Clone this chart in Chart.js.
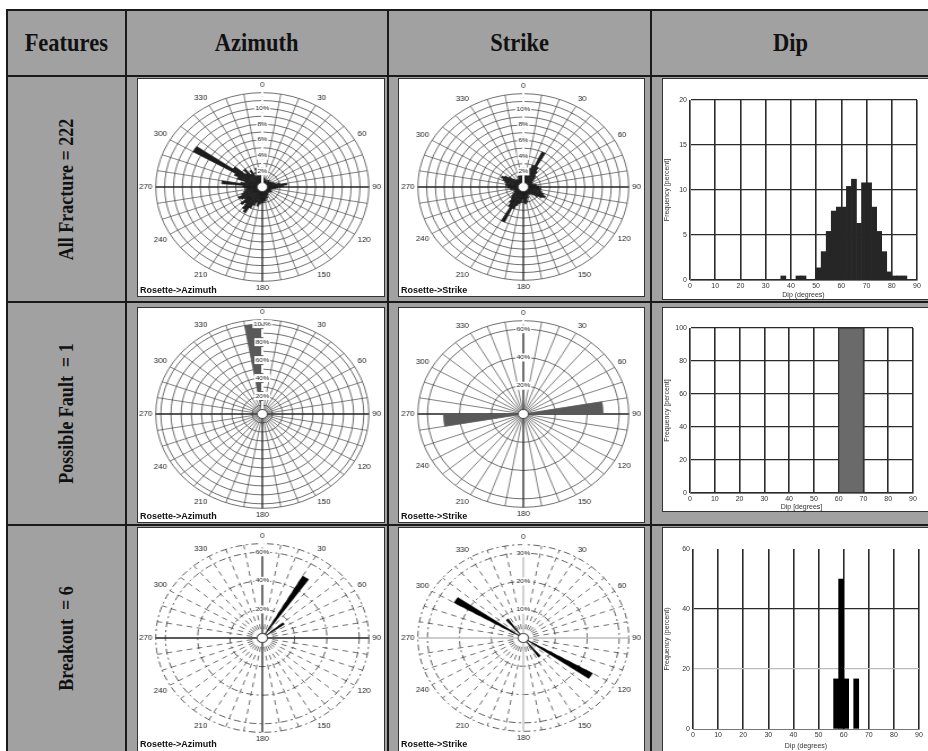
<!DOCTYPE html>
<html>
<head>
<meta charset="utf-8">
<script src="https://cdn.jsdelivr.net/npm/chart.js@4.4.1/dist/chart.umd.min.js"></script>
<style>
  body { margin: 0; width: 928px; height: 751px; overflow: hidden; position: relative; background: #fff; }
  #table { position: absolute; left: 7px; top: 10px; width: 930px; height: 760px; background: #a1a1a1; }
  .ln { position: absolute; background: #1a1a1a; }
  .hd { position: absolute; top: 10px; height: 66px; display: flex; align-items: center; justify-content: center;
        font: bold 25px "Liberation Serif", serif; color: #111; }
  .hd span { display: inline-block; transform: scaleX(0.9); }
  .rl { position: absolute; left: 7px; width: 119px; display: flex; align-items: center; justify-content: center; }
  .rl span { display: inline-block; white-space: nowrap; transform: rotate(-90deg) scaleX(0.9);
             font: bold 20px "Liberation Serif", serif; color: #111; }
  .box { position: absolute; background: #fff; border: 1px solid #333; box-sizing: border-box; overflow: hidden; }
  .box canvas { position: absolute; left: 0; top: 0; transform-origin: 0 0; }
  .cap { position: absolute; left: 2px; font: bold 9px "Liberation Sans", sans-serif; color: #111; }
</style>
</head>
<body>
<div id="table"></div>

<div class="hd" style="left:7px;width:119px"><span>Features</span></div>
<div class="hd" style="left:126px;width:262px"><span>Azimuth</span></div>
<div class="hd" style="left:388px;width:263px"><span>Strike</span></div>
<div class="hd" style="left:651px;width:278px"><span>Dip</span></div>

<div class="rl" style="top:76px;height:226px"><span>All Fracture = 222</span></div>
<div class="rl" style="top:302px;height:223px"><span>Possible Fault &nbsp;= 1</span></div>
<div class="rl" style="top:525px;height:226px"><span>Breakout &nbsp;= 6</span></div>

<div class="box" id="az1" style="left:137px;top:78px;width:248px;height:219px"></div>
<div class="box" id="st1" style="left:398px;top:78px;width:247px;height:219px"></div>
<div class="box" id="dp1" style="left:662px;top:78px;width:267px;height:222px"></div>
<div class="box" id="az2" style="left:137px;top:307px;width:248px;height:216px"></div>
<div class="box" id="st2" style="left:398px;top:307px;width:247px;height:216px"></div>
<div class="box" id="dp2" style="left:662px;top:307px;width:267px;height:205px"></div>
<div class="box" id="az3" style="left:137px;top:527px;width:248px;height:232px"></div>
<div class="box" id="st3" style="left:398px;top:527px;width:247px;height:232px"></div>
<div class="box" id="dp3" style="left:662px;top:527px;width:267px;height:232px"></div>

<div class="ln" style="left:6px;top:9px;width:2px;height:750px"></div>
<div class="ln" style="left:125px;top:9px;width:2px;height:750px"></div>
<div class="ln" style="left:387px;top:9px;width:2px;height:750px"></div>
<div class="ln" style="left:650px;top:9px;width:2px;height:750px"></div>
<div class="ln" style="left:6px;top:9px;width:930px;height:2px"></div>
<div class="ln" style="left:6px;top:75px;width:930px;height:2px"></div>
<div class="ln" style="left:6px;top:301px;width:930px;height:2px"></div>
<div class="ln" style="left:6px;top:524px;width:930px;height:2px"></div>

<script>
// compass labels round every rose
const compassLabels = ['0', '30', '60', '90', '120', '150', '180', '210', '240', '270', '300', '330'];

// All fractures, azimuth, 5 degree bins from north (percent)
const az1Vals = [1.5, 1.0, 1.2, 0.8, 1.0, 0.8, 1.0, 0.8, 1.2, 1.0, 1.0, 1.2,
                 1.2, 1.4, 1.5, 2.0, 2.8, 2.4, 1.8, 1.5, 1.2, 1.0, 1.0, 1.2,
                 1.2, 1.0, 1.0, 0.8, 1.0, 1.2, 1.2, 1.5, 1.5, 1.8, 1.8, 2.0,
                 2.0, 2.2, 2.5, 2.0, 2.5, 3.0, 3.8, 3.5, 2.8, 3.2, 2.5, 2.8,
                 3.0, 2.5, 2.2, 2.0, 1.8, 2.0, 2.2, 4.6, 2.5, 2.0, 3.0, 3.5,
                 9.0, 4.0, 2.5, 3.0, 2.0, 2.5, 1.5, 2.0, 2.5, 1.5, 2.0, 1.5];
// All fractures, strike, 5 degree bins
const st1Vals = [1.5, 2.0, 2.2, 2.5, 3.0, 5.0, 3.0, 2.5, 2.0, 1.8, 1.5, 1.2,
                 1.2, 1.0, 1.2, 1.5, 1.5, 1.8, 1.8, 2.0, 2.0, 2.2, 2.5, 2.8,
                 2.5, 2.0, 1.5, 1.2, 1.2, 1.0, 1.2, 1.5, 1.5, 2.0, 2.2, 2.0,
                 1.5, 2.0, 2.2, 2.5, 3.0, 5.0, 3.0, 2.5, 2.0, 1.8, 1.5, 1.2,
                 1.2, 1.0, 1.2, 1.5, 1.5, 1.8, 1.8, 2.0, 2.0, 2.2, 2.5, 2.8,
                 2.5, 2.0, 1.5, 1.2, 1.2, 1.0, 1.2, 1.5, 1.5, 2.0, 2.2, 2.0];
// Possible fault (10 degree bins)
const az2Bins = [350], az2Vals = [100];
const st2Bins = [80, 260], st2Vals = [50, 50];
// Breakouts (5 degree bins)
const az3Bins = [30, 50], az3Vals = [50, 16.7];
const st3Bins = [120, 140, 300, 320], st3Vals = [25, 8.3, 25, 8.3];

// Dip histograms: bin starts (degrees) and frequency (percent)
const dip1Starts = [36, 42, 44, 50, 52, 54, 56, 58, 60, 62, 64, 66, 68, 70, 72, 74, 76, 78, 80, 82, 84];
const dip1Vals = [0.45, 0.45, 0.45, 1.35, 3.15, 5.4, 7.66, 8.1, 8.1, 10.4, 11.2, 6.3, 10.8, 10.8, 8.1, 5.4, 3.15, 0.9, 0.45, 0.45, 0.45];
const dip2Starts = [60], dip2Vals = [100];
const dip3Starts = [56, 58, 60, 64], dip3Vals = [16.7, 50, 16.7, 16.7];
const dipTicks = [0, 10, 20, 30, 40, 50, 60, 70, 80, 90];

Chart.defaults.font.family = '"Liberation Sans", Arial, sans-serif';
Chart.defaults.color = '#222';
Chart.defaults.animation = false;

const SX = 1.13; // the roses in the picture are stretched sideways

function spread(bins, vals, width) {
  const out = new Array(360 / width).fill(0);
  bins.forEach((b, i) => { out[b / width] = vals[i]; });
  return out;
}

const hub = {
  id: 'hub',
  afterDatasetsDraw(chart) {
    const s = chart.scales.r, c = chart.ctx;
    c.save();
    c.beginPath();
    c.arc(s.xCenter, s.yCenter, 4.5, 0, Math.PI * 2);
    c.fillStyle = '#fff';
    c.fill();
    c.strokeStyle = '#333';
    c.lineWidth = 0.8;
    c.stroke();
    c.restore();
  }
};

function rose(id, values, o) {
  const box = document.getElementById(id);
  const h = o.h, w = Math.round(box.clientWidth / SX);
  const cv = document.createElement('canvas');
  cv.width = w; cv.height = h;
  cv.style.width = w + 'px'; cv.style.height = h + 'px';
  cv.style.transform = 'scaleX(' + SX + ')';
  box.appendChild(cv);
  const cap = document.createElement('div');
  cap.className = 'cap';
  cap.style.top = (h - 11) + 'px';
  cap.textContent = o.caption;
  box.appendChild(cap);

  const step = 360 / values.length;
  const labels = values.map((v, i) => String(i * step));
  new Chart(cv, {
    type: 'polarArea',
    data: {
      labels: labels,
      datasets: [{ data: values, backgroundColor: o.fill, borderColor: o.fill, borderWidth: 0.5 }]
    },
    options: {
      responsive: false,
      layout: { padding: 0 },
      plugins: { legend: { display: false }, tooltip: { enabled: false } },
      scales: {
        r: {
          min: 0,
          max: o.max,
          startAngle: 0,
          ticks: {
            stepSize: o.step,
            z: 1,
            font: { size: 6 },
            color: '#222',
            backdropColor: '#fff',
            backdropPadding: 1,
            callback: v => o.marks.includes(v) ? v + '%' : ''
          },
          grid: { circular: true, color: o.grid, lineWidth: 0.8 },
          border: { dash: o.ringDash },
          angleLines: {
            display: true,
            color: c => (c.index * step) % 90 === 0 ? o.cross : o.grid,
            lineWidth: c => (c.index * step) % 90 === 0 ? 1.3 : ((c.index * step) % 10 === 0 ? 0.7 : 0),
            borderDash: c => (c.index * step) % 90 === 0 ? [] : o.spokeDash
          },
          pointLabels: {
            display: true,
            centerPointLabels: false,
            padding: -1,
            font: { size: 7 },
            color: '#222',
            callback: (lbl, i) => (i * step) % 30 === 0 ? compassLabels[i * step / 30] : ''
          }
        }
      }
    },
    plugins: [hub]
  });
}

function dip(id, starts, vals, width, o) {
  const box = document.getElementById(id);
  const cv = document.createElement('canvas');
  const w = box.clientWidth, h = o.h;
  cv.width = w; cv.height = h;
  cv.style.width = w + 'px'; cv.style.height = h + 'px';
  box.appendChild(cv);
  new Chart(cv, {
    type: 'bar',
    data: {
      datasets: [{
        data: starts.map((s, i) => ({ x: s + width / 2, y: vals[i] })),
        backgroundColor: o.fill,
        borderColor: o.edge,
        borderWidth: o.edgeW,
        barPercentage: 1,
        categoryPercentage: 1
      }]
    },
    options: {
      responsive: false,
      layout: { padding: { top: o.top, right: o.right, left: 0, bottom: 0 } },
      plugins: { legend: { display: false }, tooltip: { enabled: false } },
      scales: {
        x: {
          type: 'linear',
          min: 0, max: 90,
          offset: false,
          afterBuildTicks: s => { s.ticks = dipTicks.map(v => ({ value: v })); },
          ticks: { font: { size: 7 }, padding: 2, maxRotation: 0, color: '#333' },
          grid: { offset: false, drawTicks: false, color: '#2b2b2b', lineWidth: 1.6 },
          border: { color: '#777', width: 1 },
          title: { display: true, text: o.xTitle, font: { size: 7 }, padding: 0, color: '#333' },
          afterFit: s => { s.height = o.xh; }
        },
        y: {
          min: 0, max: o.yMax,
          ticks: { stepSize: o.yStep, font: { size: 7 }, padding: 3, color: '#333' },
          grid: { drawTicks: false, color: o.yGrid, lineWidth: 1.3 },
          border: { color: '#777', width: 1 },
          title: { display: true, text: o.yTitle, font: { size: 7 }, padding: 0, color: '#333' },
          afterFit: s => { s.width = o.yw; }
        }
      }
    }
  });
}

const solid = { grid: '#4a4a4a', cross: '#222', ringDash: [], spokeDash: [] };
const dashed = { grid: '#333', cross: '#222', ringDash: [6, 3, 2, 3], spokeDash: [5, 4] };

rose('az1', az1Vals, Object.assign({ h: 217, max: 12, step: 1, marks: [2, 4, 6, 8, 10], fill: '#1c1c1c', caption: 'Rosette->Azimuth' }, solid));
rose('st1', st1Vals, Object.assign({ h: 217, max: 12, step: 1, marks: [2, 4, 6, 8, 10], fill: '#1c1c1c', caption: 'Rosette->Strike' }, solid));
rose('az2', spread(az2Bins, az2Vals, 10), Object.assign({ h: 214, max: 105, step: 10, marks: [20, 40, 60, 80, 100], fill: '#595959', caption: 'Rosette->Azimuth' }, solid));
rose('st2', spread(st2Bins, st2Vals, 10), Object.assign({ h: 214, max: 66, step: 20, marks: [20, 40, 60], fill: '#595959', caption: 'Rosette->Strike' }, solid));
rose('az3', spread(az3Bins, az3Vals, 5), Object.assign({ h: 222, max: 66, step: 20, marks: [20, 40, 60], fill: '#000', caption: 'Rosette->Azimuth' }, dashed));
rose('st3', spread(st3Bins, st3Vals, 5), Object.assign({ h: 222, max: 33, step: 10, marks: [10, 20, 30], fill: '#000', caption: 'Rosette->Strike' }, dashed, { cross: '#bbb' }));

dip('dp1', dip1Starts, dip1Vals, 2, { h: 220, top: 21, right: 11, yw: 27, xh: 19, yMax: 20, yStep: 5,
  fill: '#262626', edge: '#262626', edgeW: 0, yGrid: '#2b2b2b',
  xTitle: 'Dip (degrees)', yTitle: 'Frequency [percent]' });
dip('dp2', dip2Starts, dip2Vals, 10, { h: 203, top: 20, right: 15, yw: 27, xh: 18, yMax: 100, yStep: 20,
  fill: '#6a6a6a', edge: '#3a3a3a', edgeW: 1, yGrid: '#2b2b2b',
  xTitle: 'Dip [degrees]', yTitle: 'Frequency [percent]' });
dip('dp3', dip3Starts, dip3Vals, 2, { h: 222, top: 21, right: 9, yw: 30, xh: 21, yMax: 60, yStep: 20,
  fill: '#000', edge: '#000', edgeW: 0,
  yGrid: c => c.tick.value === 40 ? '#2b2b2b' : (c.tick.value === 20 ? '#bbb' : 'rgba(0,0,0,0)'),
  xTitle: 'Dip (degrees)', yTitle: 'Frequency (percent)' });
</script>
</body>
</html>
